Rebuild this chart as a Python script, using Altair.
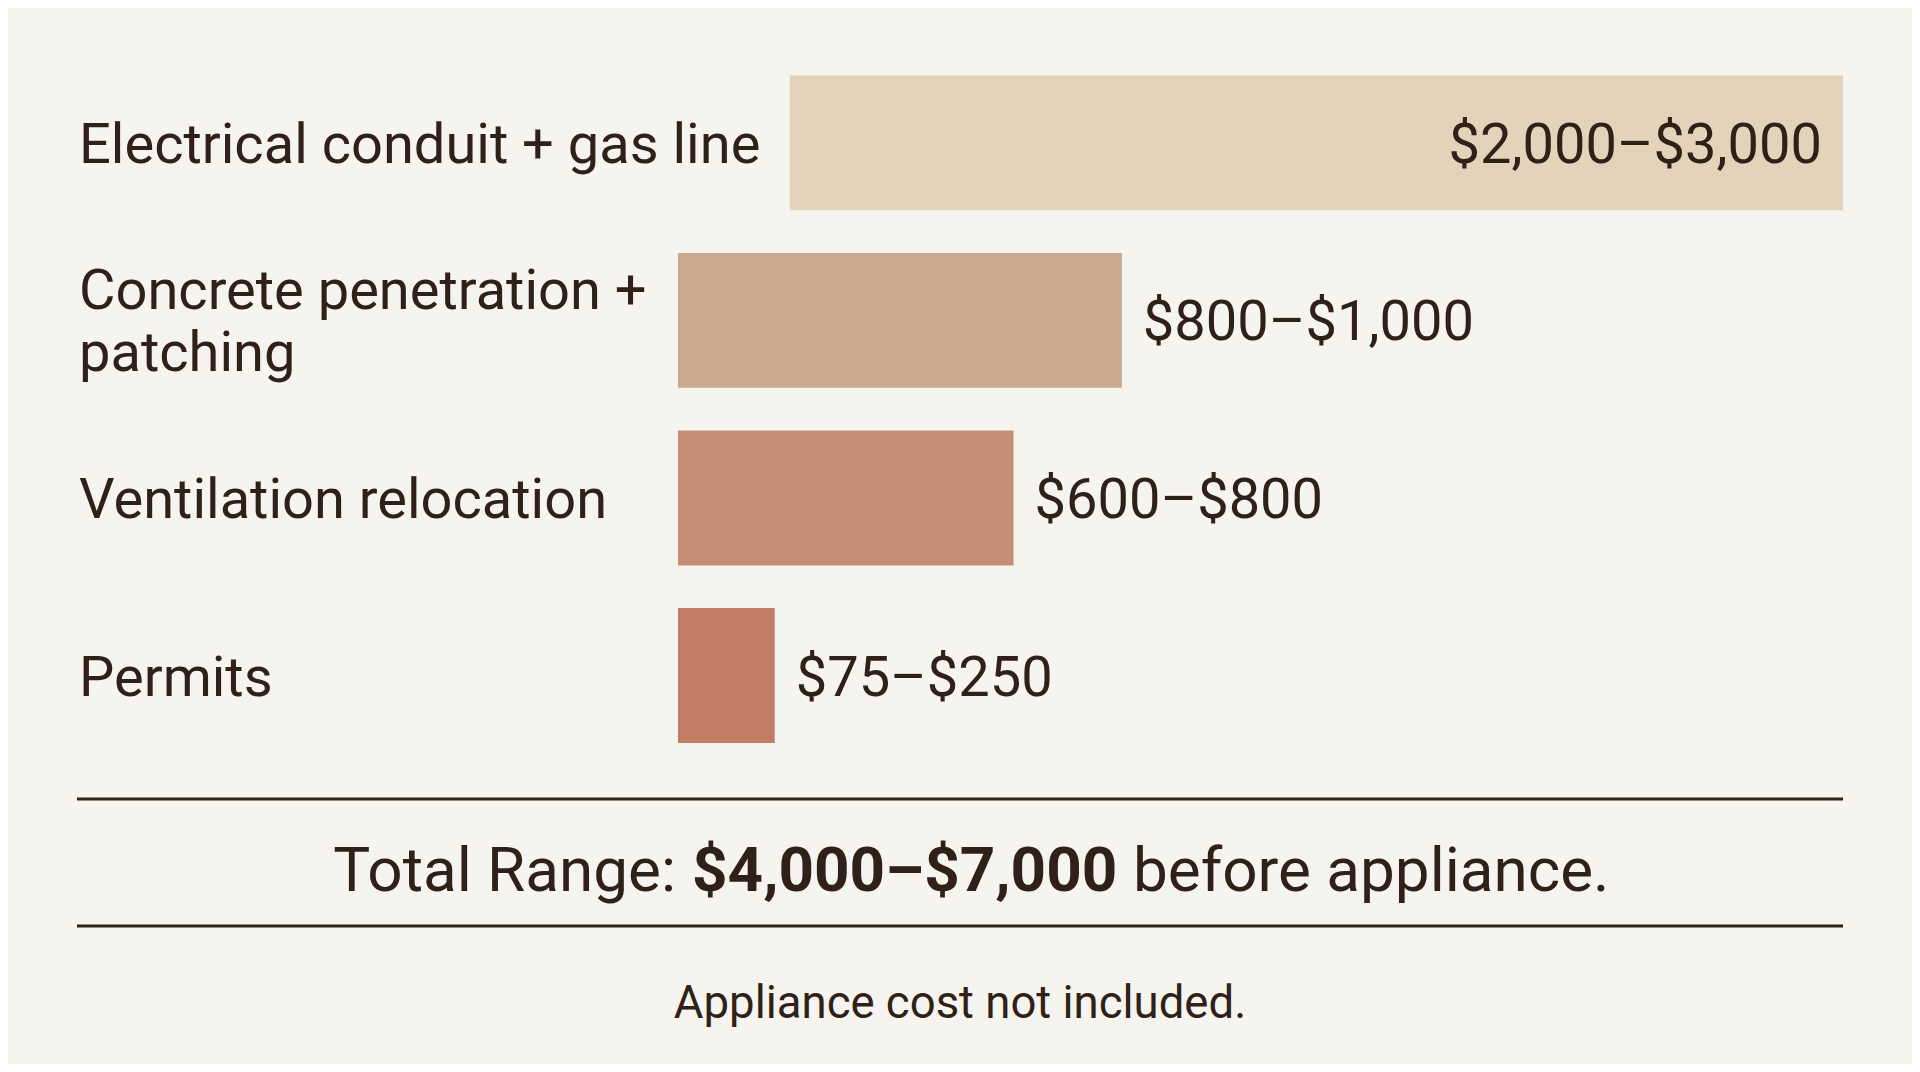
import altair as alt
import pandas as pd

# ---- data ----
categories = [
    "Electrical conduit + gas line",
    "Concrete penetration +\npatching",
    "Ventilation relocation",
    "Permits",
]
low = [2000, 800, 600, 75]
high = [3000, 1000, 800, 250]
# drawn bar extents, as a relative length (0-100)
bar_start = [9.6, 0.0, 0.0, 0.0]
bar_end = [100.0, 38.1, 28.8, 8.3]
label_inside = [True, False, False, False]

total_prefix = "Total Range:"
total_value = "$4,000–$7,000"
total_suffix = "before appliance."
footnote = "Appliance cost not included."

# ---- styles ----
BG = "#F6F4EE"
INK = "#2F2118"
BAR_COLORS = ["#E3D3BA", "#C9A88C", "#C58E75", "#C27D66"]
FONT = "Roboto"

df = pd.DataFrame({
    "category": categories,
    "low": low,
    "high": high,
    "bar_start": bar_start,
    "bar_end": bar_end,
    "inside": label_inside,
})
df["label"] = [f"${a:,}–${b:,}" for a, b in zip(low, high)]

foot = pd.DataFrame({
    "prefix": [total_prefix],
    "value": [total_value],
    "suffix": [total_suffix],
    "note": [footnote],
})

yenc = alt.Y(
    "category:N",
    sort=categories,
    scale=alt.Scale(range=[67.3, 735], paddingInner=0.24, paddingOuter=0),
    axis=None,
)
xscale = alt.Scale(domain=[0, 100], range=[670, 1835])

base = alt.Chart(df)

bars = base.mark_bar(cornerRadius=0).encode(
    x=alt.X("bar_start:Q", scale=xscale, axis=None),
    x2="bar_end:Q",
    y=yenc,
    color=alt.Color("category:N", sort=categories,
                    scale=alt.Scale(domain=categories, range=BAR_COLORS),
                    legend=None),
)

cat_single = base.transform_filter("indexof(datum.category, '\\n') < 0").mark_text(
    align="left", baseline="middle", font=FONT, fontSize=56,
    color=INK, dy=3,
).encode(
    x=alt.value(71),
    y=yenc,
    text="category:N",
)

cat_multi = base.transform_filter("indexof(datum.category, '\\n') >= 0").mark_text(
    align="left", baseline="middle", font=FONT, fontSize=56,
    color=INK, lineBreak="\n", lineHeight=62, dy=-28,
).encode(
    x=alt.value(71),
    y=yenc,
    text="category:N",
)

val_out = base.transform_filter("!datum.inside").mark_text(
    align="left", baseline="middle", font=FONT, fontSize=56, color=INK, dx=21, dy=3,
).encode(
    x=alt.X("bar_end:Q", scale=xscale, axis=None),
    y=yenc,
    text="label:N",
)

val_in = base.transform_filter("datum.inside").mark_text(
    align="right", baseline="middle", font=FONT, fontSize=56, color=INK, dx=-21, dy=3,
).encode(
    x=alt.X("bar_end:Q", scale=xscale, axis=None),
    y=yenc,
    text="label:N",
)

fbase = alt.Chart(foot)

rule_top = fbase.mark_rule(color=INK, strokeWidth=3).encode(
    x=alt.value(69), x2=alt.value(1835), y=alt.value(791)
)
rule_bot = fbase.mark_rule(color=INK, strokeWidth=3).encode(
    x=alt.value(69), x2=alt.value(1835), y=alt.value(918)
)

t_prefix = fbase.mark_text(
    align="right", baseline="alphabetic", font=FONT, fontSize=62, color=INK
).encode(x=alt.value(668), y=alt.value(883), text="prefix:N")

t_value = fbase.mark_text(
    align="left", baseline="alphabetic", font=FONT, fontSize=62,
    fontWeight="bold", color=INK
).encode(x=alt.value(684), y=alt.value(883), text="value:N")

t_suffix = fbase.mark_text(
    align="left", baseline="alphabetic", font=FONT, fontSize=62, color=INK
).encode(x=alt.value(1125), y=alt.value(883), text="suffix:N")

t_note = fbase.mark_text(
    align="center", baseline="alphabetic", font=FONT, fontSize=45.5, color=INK
).encode(x=alt.value(952), y=alt.value(1010), text="note:N")

chart = alt.layer(
    bars, cat_single, cat_multi, val_out, val_in,
    rule_top, rule_bot, t_prefix, t_value, t_suffix, t_note,
).resolve_scale(color="independent").properties(
    width=1904,
    height=1056,
    background=BG,
    padding=0,
    autosize=alt.AutoSizeParams(type="none"),
).configure_view(stroke=None)

chart.save("out.html", embed_options={"renderer": "svg", "actions": False})
